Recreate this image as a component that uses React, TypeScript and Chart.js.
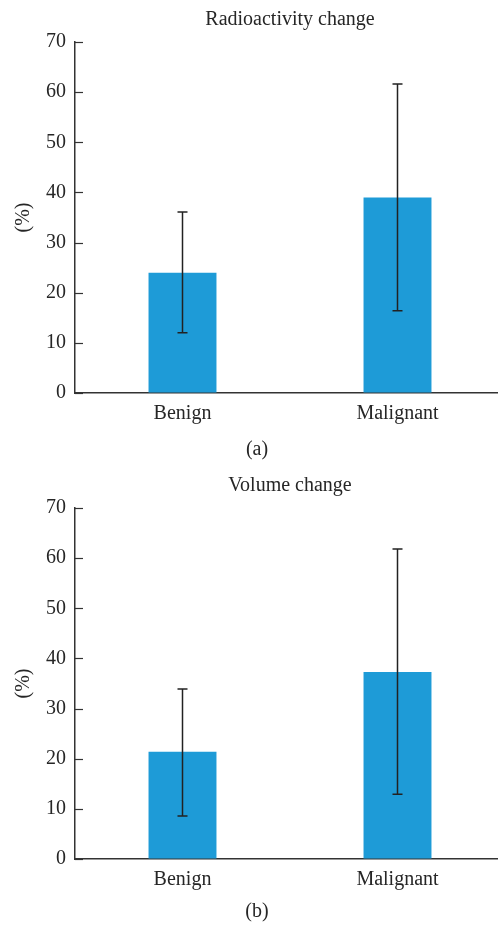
import React, { useEffect, useRef } from "react";
import { Chart, registerables } from "chart.js";

Chart.register(...registerables);

const categories = ["Benign", "Malignant"];
const yTickValues = [0, 10, 20, 30, 40, 50, 60, 70];

const radioactivityMeans = [24, 39];
const radioactivityLower = [12, 16.4];
const radioactivityUpper = [36.1, 61.6];

const volumeMeans = [21.4, 37.3];
const volumeLower = [8.6, 12.9];
const volumeUpper = [33.9, 61.8];

const FONT = '"Liberation Serif", "Times New Roman", serif';
const TEXT = "#262626";
const AXIS = "#333333";
const BAR = "#1e9bd7";

type PanelProps = {
  title: string;
  label: string;
  means: number[];
  lower: number[];
  upper: number[];
  height: number;
  top: number;
  plotTop: number;
  plotBottom: number;
};

function Panel(props: PanelProps) {
  const ref = useRef<HTMLCanvasElement | null>(null);
  useEffect(() => {
    const canvas = ref.current;
    if (!canvas) return;
    const { title, label, means, lower, upper, height, plotTop, plotBottom } = props;

    const decor = {
      id: "decor",
      afterDatasetsDraw(chart: any) {
        const ctx = chart.ctx;
        const y = chart.scales.y;
        const meta = chart.getDatasetMeta(0);
        ctx.save();
        // error bars
        ctx.strokeStyle = "#222222";
        ctx.lineWidth = 1.5;
        meta.data.forEach((bar: any, i: number) => {
          const x = bar.x;
          const yt = y.getPixelForValue(upper[i]);
          const yb = y.getPixelForValue(lower[i]);
          ctx.beginPath();
          ctx.moveTo(x, yt);
          ctx.lineTo(x, yb);
          ctx.moveTo(x - 5, yt);
          ctx.lineTo(x + 5, yt);
          ctx.moveTo(x - 5, yb);
          ctx.lineTo(x + 5, yb);
          ctx.stroke();
        });
        // inward y ticks
        ctx.strokeStyle = AXIS;
        ctx.lineWidth = 1.2;
        const left = chart.chartArea.left;
        yTickValues.forEach((v) => {
          const py = Math.round(y.getPixelForValue(v)) + 0.5;
          ctx.beginPath();
          ctx.moveTo(left, py);
          ctx.lineTo(left + 8, py);
          ctx.stroke();
        });
        // titles
        ctx.fillStyle = TEXT;
        ctx.font = "20px " + FONT;
        ctx.textAlign = "center";
        ctx.textBaseline = "middle";
        const ca = chart.chartArea;
        ctx.fillText(title, (ca.left + ca.right) / 2, plotTop - 22);
        ctx.fillText(label, 257, height - 20);
        ctx.restore();
      },
    };

    const chart = new Chart(canvas, {
      type: "bar",
      data: {
        labels: categories,
        datasets: [
          {
            data: means,
            backgroundColor: BAR,
            borderWidth: 0,
            categoryPercentage: 1,
            barPercentage: 0.316,
          },
        ],
      },
      options: {
        responsive: false,
        animation: false,
        layout: { padding: { top: plotTop, right: 5, left: 0, bottom: 0 } },
        plugins: {
          legend: { display: false },
          tooltip: { enabled: false },
          title: { display: false },
        },
        scales: {
          x: {
            grid: { drawOnChartArea: false, drawTicks: false },
            border: { display: true, color: AXIS, width: 1.5 },
            ticks: { color: TEXT, font: { family: FONT, size: 20 }, padding: 9 },
            afterFit: (s: any) => {
              s.height = height - plotBottom;
            },
          },
          y: {
            min: 0,
            max: 70,
            grid: { drawOnChartArea: false, drawTicks: false },
            border: { display: true, color: AXIS, width: 1.5 },
            ticks: {
              stepSize: 10,
              color: TEXT,
              font: { family: FONT, size: 20 },
              padding: 9,
            },
            title: {
              display: true,
              text: "(%)",
              color: TEXT,
              font: { family: FONT, size: 20 },
              padding: { top: 12, bottom: 0 },
            },
            afterFit: (s: any) => {
              s.width = 75;
            },
          },
        },
      },
      plugins: [decor],
    } as any);
    return () => chart.destroy();
  }, []);
  return (
    <div style={{ position: "absolute", left: 0, top: props.top, width: 510, height: props.height }}>
      <canvas ref={ref} width={510} height={props.height} />
    </div>
  );
}

export default function App() {
  return (
    <div
      style={{
        position: "absolute",
        left: 0,
        top: 0,
        width: 498,
        height: 932,
        overflow: "hidden",
        background: "#ffffff",
      }}
    >
      <Panel
        title="Radioactivity change"
        label="(a)"
        means={radioactivityMeans}
        lower={radioactivityLower}
        upper={radioactivityUpper}
        height={470}
        top={0}
        plotTop={42}
        plotBottom={393}
      />
      <Panel
        title="Volume change"
        label="(b)"
        means={volumeMeans}
        lower={volumeLower}
        upper={volumeUpper}
        height={462}
        top={470}
        plotTop={38}
        plotBottom={389}
      />
    </div>
  );
}
